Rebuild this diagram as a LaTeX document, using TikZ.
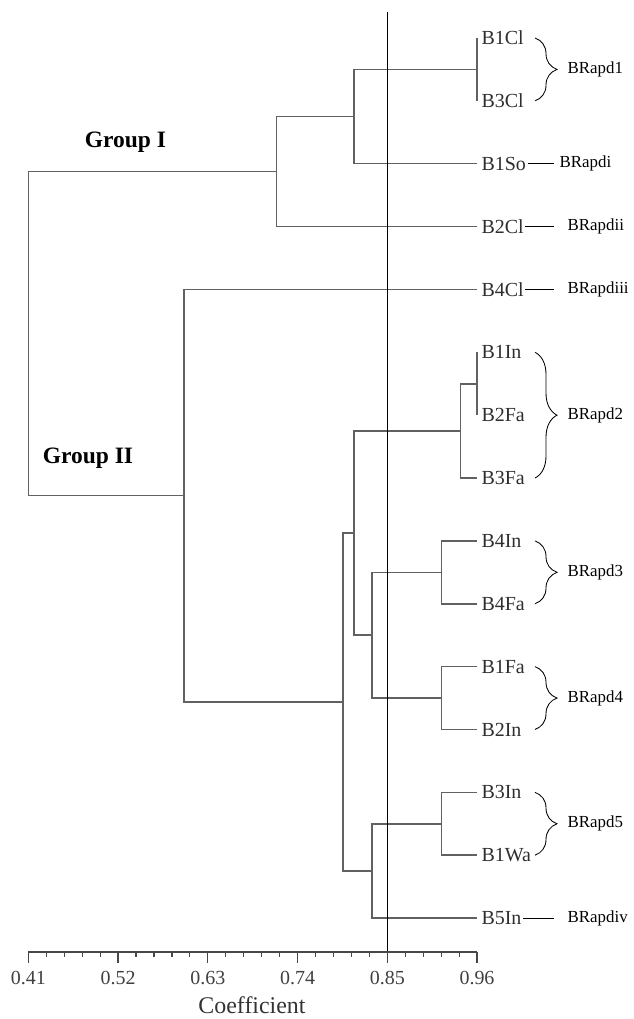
\documentclass[tikz,border=0pt]{standalone}
\usepackage{fontspec}
\setmainfont{Liberation Serif}
\usetikzlibrary{decorations.pathreplacing}

\begin{document}
\begin{tikzpicture}[
  x=20.395cm, y=-1.5715cm,
  every node/.style={inner sep=1pt},
  branch/.style={draw=black!62, line width=1.1pt},
  cut/.style={draw=black, line width=0.8pt},
  axisline/.style={draw=black!72, line width=0.85pt},
  leaf/.style={anchor=west, xshift=2pt, text=black!82, font=\fontsize{14.2}{16}\selectfont},
  clus/.style={anchor=west, font=\fontsize{12}{14}\selectfont},
  grp/.style={font=\bfseries\fontsize{16.7}{19}\selectfont},
  ticklab/.style={text=black!75, font=\fontsize{14.2}{16}\selectfont},
  % curly bracket that gathers a cluster, and the short rule for a single leaf
  brc/.style={draw, line width=0.6pt, decorate, decoration={brace, amplitude=0.55cm}},
  conn/.style={draw, line width=0.6pt, shorten >=0.3cm}]

  \useasboundingbox (0.37531,-0.6045) rectangle (1.15124,15.606);

  % leaves
  \coordinate (l0)  at (0.96,0);
  \coordinate (l1)  at (0.96,1);
  \coordinate (l2)  at (0.96,2);
  \coordinate (l3)  at (0.96,3);
  \coordinate (l4)  at (0.96,4);
  \coordinate (l5)  at (0.96,5);
  \coordinate (l6)  at (0.96,6);
  \coordinate (l7)  at (0.96,7);
  \coordinate (l8)  at (0.96,8);
  \coordinate (l9)  at (0.96,9);
  \coordinate (l10) at (0.96,10);
  \coordinate (l11) at (0.96,11);
  \coordinate (l12) at (0.96,12);
  \coordinate (l13) at (0.96,13);
  \coordinate (l14) at (0.96,14);

  \node[leaf] (b1cl) at (l0)  {B1Cl};
  \node[leaf] (b3cl) at (l1)  {B3Cl};
  \node[leaf] (b1so) at (l2)  {B1So};
  \node[leaf] (b2cl) at (l3)  {B2Cl};
  \node[leaf] (b4cl) at (l4)  {B4Cl};
  \node[leaf] (b1in) at (l5)  {B1In};
  \node[leaf] (b2fa) at (l6)  {B2Fa};
  \node[leaf] (b3fa) at (l7)  {B3Fa};
  \node[leaf] (b4in) at (l8)  {B4In};
  \node[leaf] (b4fa) at (l9)  {B4Fa};
  \node[leaf] (b1fa) at (l10) {B1Fa};
  \node[leaf] (b2in) at (l11) {B2In};
  \node[leaf] (b3in) at (l12) {B3In};
  \node[leaf] (b1wa) at (l13) {B1Wa};
  \node[leaf] (b5in) at (l14) {B5In};

  % joins (x = coefficient)
  \coordinate (ja)   at (0.960,0.5);
  \coordinate (jb)   at (0.809,1.25);
  \coordinate (jc)   at (0.714,2.125);
  \coordinate (jd)   at (0.960,5.5);
  \coordinate (je)   at (0.940,6.25);
  \coordinate (jf)   at (0.9165,8.5);
  \coordinate (jg)   at (0.9165,10.5);
  \coordinate (jh)   at (0.831,9.5);
  \coordinate (jk)   at (0.809,7.875);
  \coordinate (jm)   at (0.9165,12.5);
  \coordinate (jn)   at (0.831,13.25);
  \coordinate (jp)   at (0.796,10.5625);
  \coordinate (jq)   at (0.601,7.28125);
  \coordinate (root) at (0.410,4.703125);

  % branches
  \draw[branch] (ja) |- (l0);  \draw[branch] (ja) |- (l1);
  \draw[branch] (jb) |- (ja);  \draw[branch] (jb) |- (l2);
  \draw[branch] (jc) |- (jb);  \draw[branch] (jc) |- (l3);
  \draw[branch] (root) |- (jc); \draw[branch] (root) |- (jq);
  \draw[branch] (jq) |- (l4);  \draw[branch] (jq) |- (jp);
  \draw[branch] (jp) |- (jk);  \draw[branch] (jp) |- (jn);
  \draw[branch] (jk) |- (je);  \draw[branch] (jk) |- (jh);
  \draw[branch] (je) |- (jd);  \draw[branch] (je) |- (l7);
  \draw[branch] (jd) |- (l5);  \draw[branch] (jd) |- (l6);
  \draw[branch] (jh) |- (jf);  \draw[branch] (jh) |- (jg);
  \draw[branch] (jf) |- (l8);  \draw[branch] (jf) |- (l9);
  \draw[branch] (jg) |- (l10); \draw[branch] (jg) |- (l11);
  \draw[branch] (jn) |- (jm);  \draw[branch] (jn) |- (l14);
  \draw[branch] (jm) |- (l12); \draw[branch] (jm) |- (l13);

  % cut-off line at 0.85
  \coordinate (cuttop) at (0.85,-0.418);
  \coordinate (cutbot) at (0.85,14.54);
  \draw[cut] (cuttop) -- (cutbot);

  % axis
  \coordinate (ax0) at (0.41,14.54);
  \coordinate (ax1) at (0.96,14.54);
  \draw[axisline] (ax0) -- (ax1);
  \foreach \k in {0,...,25}
    \draw[axisline] (0.41+0.022*\k,14.54) -- ++(0,0.08);
  \foreach \v [count=\j] in {0.41,0.52,0.63,0.74,0.85,0.96} {
    \draw[axisline] (\v,14.54) -- ++(0,0.175);
    \node[ticklab] (tick\j) at (\v,14.954) {\v};
  }
  \node[inner sep=0pt, font=\fontsize{17}{20}\selectfont, text=black!80] (coef) at (0.6842,15.39) {Coefficient};

  % group names
  \node[grp] (g1) at (0.5291,1.654) {Group I};
  \node[grp] (g2) at (0.4832,6.68) {Group II};

  % clusters
  \coordinate (br1t) at (1.0311,0);  \coordinate (br1b) at (1.0311,1);
  \coordinate (br2t) at (1.0311,5);  \coordinate (br2b) at (1.0311,7);
  \coordinate (br3t) at (1.0311,8);  \coordinate (br3b) at (1.0311,9);
  \coordinate (br4t) at (1.0311,10); \coordinate (br4b) at (1.0311,11);
  \coordinate (br5t) at (1.0311,12); \coordinate (br5b) at (1.0311,13);
  \draw[brc] (br1t) -- (br1b);
  \draw[brc] (br2t) -- (br2b);
  \draw[brc] (br3t) -- (br3b);
  \draw[brc] (br4t) -- (br4b);
  \draw[brc] (br5t) -- (br5b);

  \node[clus] (rapd1)   at (1.0691,0.5)  {BRapd1};
  \node[clus] (rapd2)   at (1.0691,6)    {BRapd2};
  \node[clus] (rapd3)   at (1.0691,8.5)  {BRapd3};
  \node[clus] (rapd4)   at (1.0691,10.5) {BRapd4};
  \node[clus] (rapd5)   at (1.0691,12.5) {BRapd5};
  \node[clus] (rapdi)   at (1.0593,2)    {BRapdi};
  \node[clus] (rapdii)  at (1.0691,3)    {BRapdii};
  \node[clus] (rapdiii) at (1.0691,4)    {BRapdiii};
  \node[clus] (rapdiv)  at (1.0691,14)   {BRapdiv};

  \draw[conn, shorten >=0.1cm] (b1so) -- (rapdi);
  \draw[conn] (b2cl) -- (rapdii);
  \draw[conn] (b4cl) -- (rapdiii);
  \draw[conn] (b5in) -- (rapdiv);
\end{tikzpicture}
\end{document}
